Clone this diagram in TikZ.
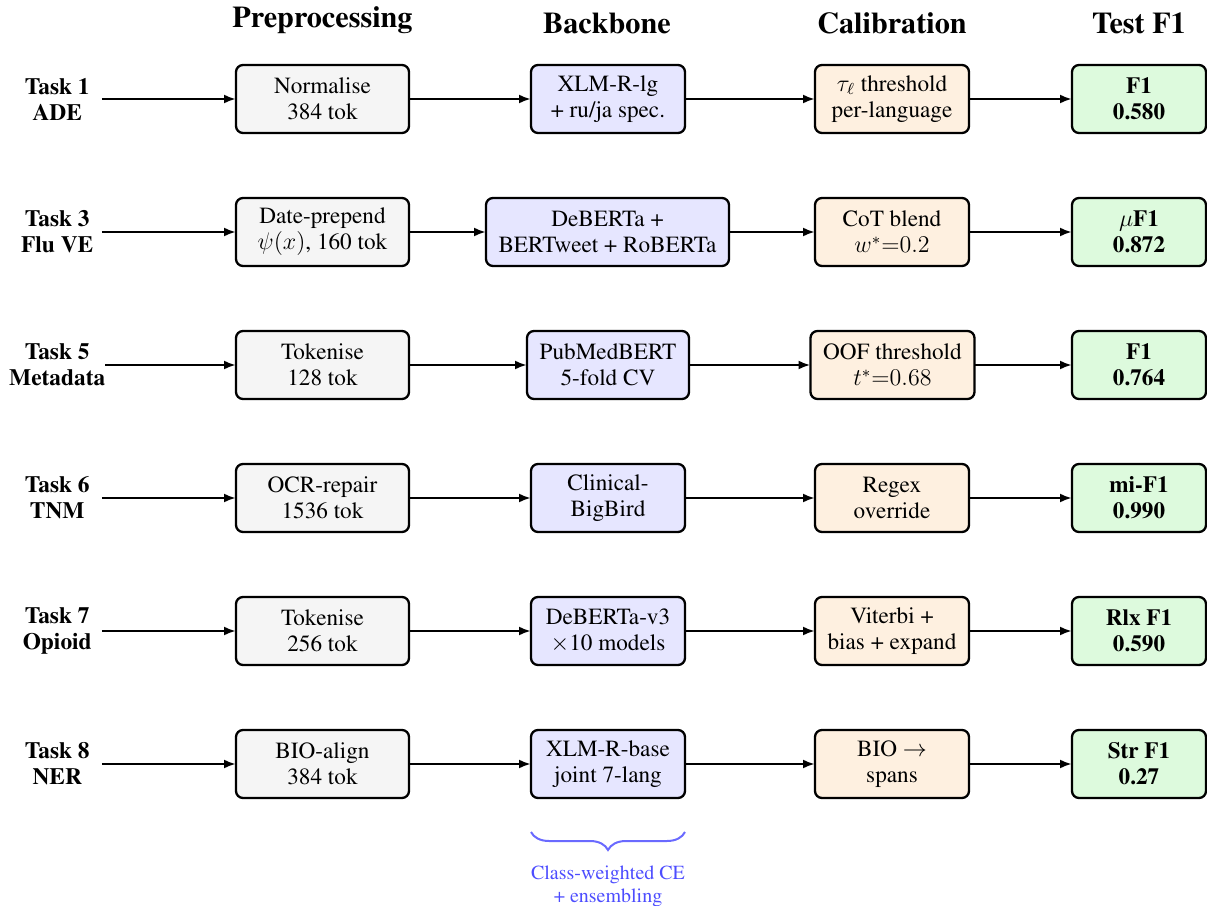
\documentclass[tikz,border=0pt]{standalone}
\usepackage[T1]{fontenc}
\renewcommand{\rmdefault}{ptm}
\usetikzlibrary{arrows.meta,decorations.pathreplacing}
\definecolor{prefill}{HTML}{F5F5F5}
\definecolor{backfill}{HTML}{E6E6FF}
\definecolor{calfill}{HTML}{FEF0E0}
\definecolor{testfill}{HTML}{DDFADD}
\definecolor{bracecol}{HTML}{6A6AFF}
\definecolor{notecol}{HTML}{4D4DFF}
\begin{document}
\begin{tikzpicture}[x=0.5pt,y=-0.5pt,
  box/.style={draw, line width=1.15pt, rounded corners=3.5pt, align=center,
    minimum height=34pt, inner sep=2pt, outer sep=0pt,
    font=\fontsize{11.6}{13}\selectfont},
  prebox/.style={box, fill=prefill, minimum width=86.5pt},
  backbox/.style={box, fill=backfill, minimum width=77pt},
  calbox/.style={box, fill=calfill, minimum width=77pt},
  testbox/.style={box, fill=testfill, minimum width=67pt, font=\fontsize{11.6}{13}\selectfont\bfseries},
  tasklbl/.style={align=center, minimum width=44.5pt, inner sep=0pt, outer sep=0pt,
    font=\fontsize{11.7}{13}\selectfont\bfseries},
  hdr/.style={anchor=base, inner sep=0pt, font=\fontsize{15.1}{18}\selectfont\bfseries},
  arr/.style={line width=1.15pt, -{Latex[length=6pt,width=4.5pt]}}
]
\useasboundingbox (0,0) rectangle (1207,906);

% headers
\node[hdr] (h1) at (322.5,27) {Preprocessing};
\node[hdr] (h2) at (607,33.5) {Backbone};
\node[hdr] (h3) at (892,33.5) {Calibration};
\node[hdr] (h4) at (1139,33.5) {Test F1};

% row 1
\node[tasklbl] (t1) at (57.25,99) {Task 1\\ADE};
\node[prebox] (p1) at (322.5,99) {Normalise\\384 tok};
\node[backbox] (b1) at (608,99) {XLM-R-lg\\+ ru/ja spec.};
\node[calbox] (c1) at (892,99) {$\tau_\ell$ threshold\\per-language};
\node[testbox] (f1) at (1139,99) {F1\\0.580};

% row 2
\node[tasklbl] (t2) at (57.25,232) {Task 3\\Flu VE};
\node[prebox] (p2) at (322.5,232) {Date-prepend\\$\psi(x)$, 160 tok};
\node[backbox, minimum width=121.5pt] (b2) at (607.5,232) {DeBERTa +\\BERTweet + RoBERTa};
\node[calbox] (c2) at (892,232) {CoT blend\\$w^{*}{=}0.2$};
\node[testbox] (f2) at (1139,232) {$\mu$F1\\0.872};

% row 3
\node[tasklbl] (t3) at (57.25,365) {Task 5\\Metadata};
\node[prebox] (p3) at (322.5,365) {Tokenise\\128 tok};
\node[backbox, minimum width=81pt] (b3) at (608,365) {PubMedBERT\\5-fold CV};
\node[calbox, minimum width=82pt] (c3) at (892.5,365) {OOF threshold\\$t^{*}{=}0.68$};
\node[testbox] (f3) at (1139,365) {F1\\0.764};

% row 4
\node[tasklbl] (t4) at (57.25,498) {Task 6\\TNM};
\node[prebox] (p4) at (322.5,498) {OCR-repair\\1536 tok};
\node[backbox] (b4) at (608,498) {Clinical-\\BigBird};
\node[calbox] (c4) at (892,498) {Regex\\override};
\node[testbox] (f4) at (1139,498) {mi-F1\\0.990};

% row 5
\node[tasklbl] (t5) at (57.25,631) {Task 7\\Opioid};
\node[prebox] (p5) at (322.5,631) {Tokenise\\256 tok};
\node[backbox] (b5) at (608,631) {DeBERTa-v3\\$\times$10 models};
\node[calbox] (c5) at (892,631) {Viterbi +\\bias + expand};
\node[testbox] (f5) at (1139,631) {Rlx F1\\0.590};

% row 6
\node[tasklbl] (t6) at (57.25,764) {Task 8\\NER};
\node[prebox] (p6) at (322.5,764) {BIO-align\\384 tok};
\node[backbox] (b6) at (608,764) {XLM-R-base\\joint 7-lang};
\node[calbox] (c6) at (892,764) {BIO $\rightarrow$\\spans};
\node[testbox] (f6) at (1139,764) {Str F1\\0.27};

% arrows
\foreach \i in {1,...,6}{
  \draw[arr] (t\i) -- (p\i);
  \draw[arr] (p\i) -- (b\i);
  \draw[arr] (b\i) -- (c\i);
  \draw[arr] (c\i) -- (f\i);
}

% brace
\coordinate (bl) at ([yshift=-17pt]b6.south west);
\coordinate (br) at ([yshift=-17pt]b6.south east);
\draw[decorate, decoration={brace, mirror, amplitude=9pt}, bracecol, line width=1pt]
  (bl) -- (br) node[midway, below=16.5pt, inner sep=0pt, align=center, text=notecol,
  font=\fontsize{10}{11.5}\selectfont] (note) {Class-weighted CE\\+ ensembling};
\end{tikzpicture}
\end{document}
